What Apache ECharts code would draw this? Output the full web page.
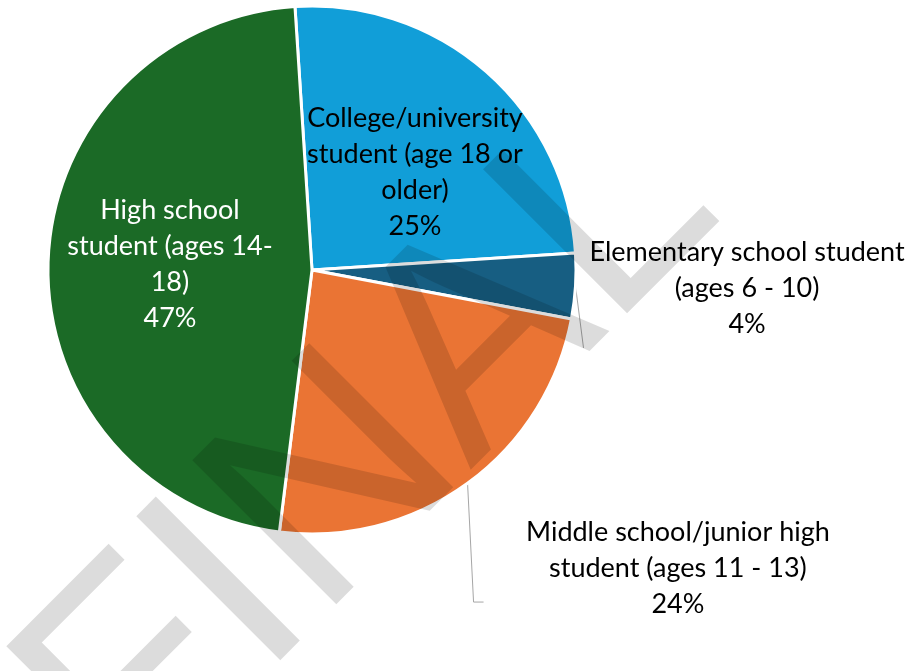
<!DOCTYPE html>
<html>
<head>
<meta charset="utf-8">
<script src="https://cdn.jsdelivr.net/npm/echarts@6/dist/echarts.min.js"></script>
<style>
  html, body { margin: 0; padding: 0; background: #ffffff; }
  #chart { width: 915px; height: 671px; }
</style>
</head>
<body>
<div id="chart"></div>
<script>
// Student level of respondents
const categories = [
  'College/university student (age 18 or older)',
  'Elementary school student (ages 6 - 10)',
  'Middle school/junior high student (ages 11 - 13)',
  'High school student (ages 14-18)'
];
// wrapped text used for the slice labels
const labelTexts = [
  'College/university\nstudent (age 18 or\nolder)',
  'Elementary school student\n(ages 6 - 10)',
  'Middle school/junior high\nstudent (ages 11 - 13)',
  'High school\nstudent (ages 14-\n18)'
];
const shares = [25, 4, 24, 47];
const sliceColors = ['#119ed8', '#175e82', '#ea7434', '#1b6a26'];

const CX = 312, CY = 270, R = 264;
const FONT = 'Lato';

// label centres, in pie radii from the pie centre
const labelOffsets = [[0.39, -0.371], [1.648, 0.068], [1.386, 1.129], [-0.538, -0.023]];
const insideLabel = [true, false, false, true];
const labelColors = ['#000000', '#000000', '#000000', '#ffffff'];

const chart = echarts.init(document.getElementById('chart'), null, { renderer: 'canvas' });

const data = categories.map((name, i) => ({
  name: name,
  value: shares[i],
  itemStyle: { color: sliceColors[i] },
  label: {
    position: insideLabel[i] ? 'inside' : 'outside',
    color: labelColors[i]
  },
  labelLine: { show: !insideLabel[i] }
}));

chart.setOption({
  animation: false,
  backgroundColor: '#ffffff',
  series: [{
    type: 'pie',
    center: [CX, CY],
    radius: R,
    startAngle: 93.7,
    clockwise: true,
    avoidLabelOverlap: false,
    silent: true,
    data: data,
    itemStyle: { borderColor: '#ffffff', borderWidth: 3 },
    label: {
      show: true,
      fontFamily: FONT,
      fontSize: 27,
      lineHeight: 36,
      align: 'center',
      formatter: p => labelTexts[p.dataIndex] + '\n' + p.percent + '%'
    },
    labelLine: {
      lineStyle: { color: '#a6a6a6', width: 1 }
    },
    labelLayout: function (p) {
      const i = p.dataIndex;
      const x = CX + labelOffsets[i][0] * R;
      const y = CY + labelOffsets[i][1] * R;
      const out = { x: x, y: y, align: 'center', verticalAlign: 'middle' };
      if (!insideLabel[i] && p.labelLinePoints) {
        const s = p.labelLinePoints[0];
        const left = x - p.labelRect.width / 2;
        const bottom = y + p.labelRect.height / 2;
        if (i === 1) {
          out.labelLinePoints = [[s[0], s[1]], [left - 6, bottom + 6]];
        } else {
          out.labelLinePoints = [[s[0], s[1]], [s[0] + 6, bottom - 20], [s[0] + 16, bottom - 20]];
        }
      }
      return out;
    }
  }],
  graphic: [{
    type: 'text',
    x: 372,
    y: 453,
    rotation: Math.PI / 4,
    z: 100,
    silent: true,
    style: {
      text: 'FINAL',
      fontFamily: 'Liberation Sans',
      fontSize: 296,
      fill: 'rgba(0,0,0,0.137)',
      align: 'center',
      verticalAlign: 'middle'
    }
  }]
});
</script>
</body>
</html>
